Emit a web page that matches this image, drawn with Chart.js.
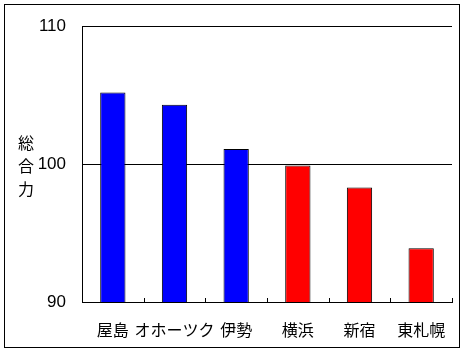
<!DOCTYPE html>
<html>
<head>
<meta charset="utf-8">
<script src="https://cdn.jsdelivr.net/npm/chart.js@4"></script>
<style>
  body { margin: 0; background: #fff; }
</style>
</head>
<body>
<canvas id="myChart" width="465" height="354"></canvas>
<script>
const categories = ['屋島', 'オホーツク', '伊勢', '横浜', '新宿', '東札幌'];
const scores = [105.2, 104.3, 101.1, 99.9, 98.3, 93.9];
const yTicks = [90, 100, 110];
const yTitle = ['総', '合', '力'];

// 最初の3つは青、残りは赤
const barColors = categories.map((c, i) => i < 3 ? '#0000ff' : '#ff0000');

const jpFont = '"Noto Sans CJK JP", sans-serif';

const framePlugin = {
    id: 'frame',
    beforeDraw(chart) {
        const ctx = chart.ctx;
        ctx.save();
        ctx.fillStyle = '#fff';
        ctx.fillRect(0, 0, chart.width, chart.height);
        ctx.strokeStyle = '#000';
        ctx.lineWidth = 1;
        ctx.strokeRect(4.5, 4.5, 455, 343);
        ctx.restore();
    },
    afterDraw(chart) {
        const ctx = chart.ctx;
        const x = chart.scales.x;
        ctx.save();
        // カテゴリ境界の目盛り（内向き）
        ctx.strokeStyle = '#000';
        ctx.lineWidth = 1;
        const n = categories.length;
        for (let i = 1; i <= n; i++) {
            const px = Math.round(x.left + i * x.width / n) + 0.5;
            ctx.beginPath();
            ctx.moveTo(px, x.top);
            ctx.lineTo(px, x.top - 4);
            ctx.stroke();
        }
        // 縦書きの軸タイトル
        ctx.fillStyle = '#000';
        ctx.font = '16px ' + jpFont;
        ctx.textAlign = 'center';
        ctx.textBaseline = 'middle';
        const y = chart.scales.y;
        const mid = y.getPixelForValue(100);
        yTitle.forEach((ch, i) => {
            ctx.fillText(ch, 26, mid - 21 + i * 23);
        });
        ctx.restore();
    }
};

new Chart(document.getElementById('myChart'), {
    type: 'bar',
    data: {
        labels: categories,
        datasets: [{
            data: scores,
            backgroundColor: barColors,
            borderColor: '#000',
            borderWidth: 1,
            categoryPercentage: 1,
            barPercentage: 0.41
        }]
    },
    options: {
        responsive: false,
        animation: false,
        devicePixelRatio: 1,
        layout: { padding: { left: 0, top: 25, right: 13, bottom: 0 } },
        plugins: {
            legend: { display: false },
            tooltip: { enabled: false }
        },
        scales: {
            x: {
                grid: { display: false },
                border: { display: true, color: '#000', width: 1 },
                ticks: {
                    color: '#000',
                    padding: 10,
                    maxRotation: 0,
                    autoSkip: false,
                    font: { family: jpFont, size: 16 }
                },
                afterFit(scale) { scale.height = 52; }
            },
            y: {
                min: 90,
                max: 110,
                afterBuildTicks(scale) {
                    scale.ticks = yTicks.map(v => ({ value: v }));
                },
                grid: { color: '#000', lineWidth: 1, drawTicks: false },
                border: { display: true, color: '#000', width: 1 },
                ticks: {
                    color: '#000',
                    padding: 16,
                    font: { family: '"Liberation Sans", Arial, sans-serif', size: 17 }
                },
                afterFit(scale) { scale.width = 82; }
            }
        }
    },
    plugins: [framePlugin]
});
</script>
</body>
</html>
